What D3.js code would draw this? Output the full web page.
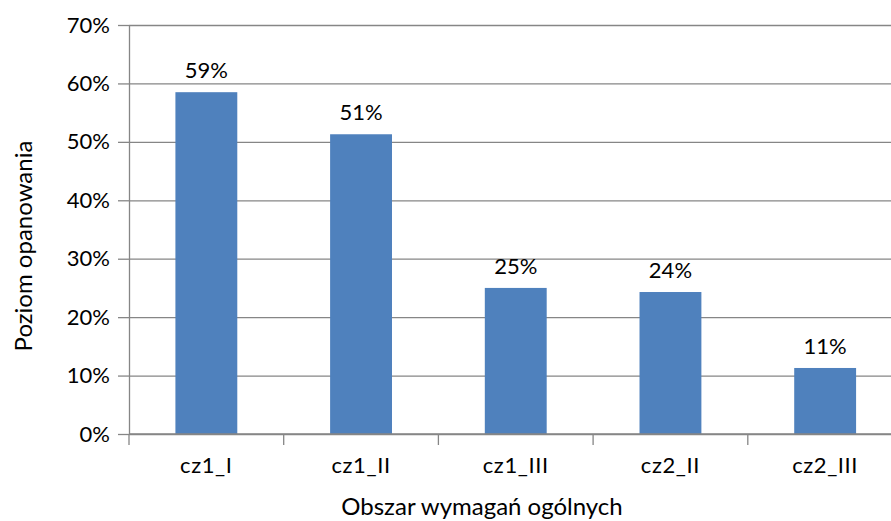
<!DOCTYPE html>
<html>
<head>
<meta charset="utf-8">
<script src="https://cdn.jsdelivr.net/npm/d3@7"></script>
<style>
  body { margin: 0; background: #fff; }
  svg { display: block; font-family: Lato, "Open Sans", sans-serif; }
</style>
</head>
<body>
<svg></svg>
<script>
  // Chart data
  var categories = ["cz1_I", "cz1_II", "cz1_III", "cz2_II", "cz2_III"];
  var values = [0.585, 0.513, 0.250, 0.243, 0.113];
  var valueLabels = ["59%", "51%", "25%", "24%", "11%"];
  var yTicks = [0, 0.1, 0.2, 0.3, 0.4, 0.5, 0.6, 0.7];

  var dataset = categories.map(function(c, i) {
    return { cat: c, value: values[i], label: valueLabels[i] };
  });

  var svgW = 891, svgH = 521;
  var margin = { top: 25, left: 129, bottom: 87 };
  var height = svgH - margin.top - margin.bottom; // 409
  var width = 773.5; // runs past the right edge, as in the reference

  var svg = d3.select("svg")
    .attr("width", svgW)
    .attr("height", svgH);

  var g = svg.append("g")
    .attr("transform", "translate(" + margin.left + "," + margin.top + ")");

  // Scales
  var xScale = d3.scaleBand()
    .domain(categories)
    .range([0, width])
    .paddingInner(0.6)
    .paddingOuter(0.3);

  var yScale = d3.scaleLinear()
    .domain([0, 0.7])
    .range([height, 0]);

  // Gridlines
  g.append("g")
    .attr("class", "grid")
    .call(d3.axisLeft(yScale).tickValues(yTicks).tickSize(-width).tickFormat(""))
    .call(function(s) { s.select(".domain").remove(); })
    .selectAll(".tick line")
    .style("stroke", "#868686")
    .style("stroke-width", "1.3px");

  // Bars
  g.selectAll("rect.bar")
    .data(dataset)
    .enter()
    .append("rect")
    .attr("class", "bar")
    .attr("x", function(d) { return xScale(d.cat); })
    .attr("y", function(d) { return yScale(d.value); })
    .attr("width", xScale.bandwidth())
    .attr("height", function(d) { return height - yScale(d.value); })
    .attr("fill", "#4F81BD");

  // Value labels
  g.selectAll(".bar-label")
    .data(dataset)
    .enter()
    .append("text")
    .attr("class", "bar-label")
    .attr("x", function(d) { return xScale(d.cat) + xScale.bandwidth() / 2; })
    .attr("y", function(d) { return yScale(d.value) - 14; })
    .attr("text-anchor", "middle")
    .style("font-size", "22px")
    .style("fill", "#000")
    .text(function(d) { return d.label; });

  // Y axis
  var yAxis = d3.axisLeft(yScale)
    .tickValues(yTicks)
    .tickSize(11)
    .tickSizeOuter(0)
    .tickPadding(8)
    .tickFormat(d3.format(".0%"));
  var yG = g.append("g").call(yAxis);
  yG.selectAll("line, path").style("stroke", "#868686").style("stroke-width", "1.3px");
  yG.selectAll("text").style("font-size", "22px").style("fill", "#000").style("font-family", "Lato, sans-serif");

  // X axis: ticks at band boundaries
  var boundaries = d3.range(categories.length + 1).map(function(i) {
    return i * xScale.step();
  });
  var xG = g.append("g").attr("transform", "translate(0," + height + ")");
  xG.append("line")
    .attr("x1", 0).attr("x2", width)
    .style("stroke", "#868686").style("stroke-width", "1.3px");
  xG.selectAll(".xtick")
    .data(boundaries)
    .enter()
    .append("line")
    .attr("class", "xtick")
    .attr("x1", function(d) { return d; })
    .attr("x2", function(d) { return d; })
    .attr("y1", 0).attr("y2", 11)
    .style("stroke", "#868686").style("stroke-width", "1.3px");
  xG.selectAll(".xlabel")
    .data(categories)
    .enter()
    .append("text")
    .attr("class", "xlabel")
    .attr("x", function(d) { return xScale(d) + xScale.bandwidth() / 2; })
    .attr("y", 39)
    .attr("text-anchor", "middle")
    .style("font-size", "22px")
    .style("letter-spacing", "0.6px")
    .text(function(d) { return d; });

  // Axis titles
  svg.append("text")
    .attr("x", 482)
    .attr("y", 515)
    .attr("text-anchor", "middle")
    .style("font-size", "24px")
    .text("Obszar wymagań ogólnych");

  svg.append("text")
    .attr("transform", "translate(32,246) rotate(-90)")
    .attr("text-anchor", "middle")
    .style("font-size", "24px")
    .text("Poziom opanowania");
</script>
</body>
</html>
